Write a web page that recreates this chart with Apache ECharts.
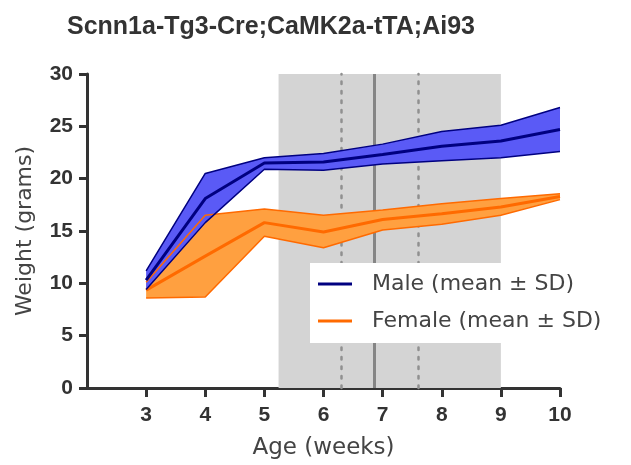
<!DOCTYPE html>
<html>
<head>
<meta charset="utf-8">
<script src="https://cdn.jsdelivr.net/npm/echarts@6/dist/echarts.min.js"></script>
<style>html,body{margin:0;padding:0;background:#fff}#c{width:631px;height:465px}</style>
</head>
<body>
<div id="c"></div>
<script>
var titleText = 'Scnn1a-Tg3-Cre;CaMK2a-tTA;Ai93';
var weeks = [3, 4, 5, 6, 7, 8, 9, 10];
var xTicks = [3, 4, 5, 6, 7, 8, 9, 10];
var maleMean  = [10.3, 18.1, 21.5, 21.6, 22.3, 23.1, 23.6, 24.7];
var maleUpper = [11.2, 20.5, 22.0, 22.4, 23.3, 24.5, 25.1, 26.8];
var maleLower = [9.4, 15.8, 20.9, 20.8, 21.4, 21.7, 22.0, 22.6];
var femaleMean  = [9.35, 12.6, 15.8, 14.9, 16.1, 16.65, 17.3, 18.3];
var femaleUpper = [10.1, 16.5, 17.1, 16.5, 17.0, 17.6, 18.1, 18.55];
var femaleLower = [8.6, 8.7, 14.5, 13.4, 15.1, 15.65, 16.5, 18.0];
var windowRange = [5.24, 9.0];
var dottedLines = [6.30, 7.61];
var solidLine = [6.86];
var maleName = 'Male (mean \u00b1 SD)';
var femaleName = 'Female (mean \u00b1 SD)';

function pairs(ys) { return weeks.map(function (w, i) { return [w, ys[i]]; }); }

var NAVY = '#000080', BLUEFILL = '#5a5af6', ORANGE = '#ff6a00', ORANGEFILL = '#ffa040';
var FONT = 'DejaVu Sans';

function bandFill(up, lo, color) {
  return {
    type: 'custom', silent: true, z: 2, clip: true,
    data: [[weeks[0], lo[0]]],
    renderItem: function (params, api) {
      var pts = [];
      for (var i = 0; i < weeks.length; i++) pts.push(api.coord([weeks[i], up[i]]));
      for (var j = weeks.length - 1; j >= 0; j--) pts.push(api.coord([weeks[j], lo[j]]));
      return { type: 'polygon', shape: { points: pts }, style: { fill: color } };
    }
  };
}
function edge(vals, color, w, name) {
  return { type: 'line', name: name, data: pairs(vals), symbol: 'none', silent: true,
    lineStyle: { color: color, width: w }, itemStyle: { color: color }, z: 3 };
}

var chart = echarts.init(document.getElementById('c'), null, { renderer: 'canvas' });
chart.setOption({
  animation: false,
  backgroundColor: '#fff',
  title: {
    text: titleText, left: 62, top: 10,
    textStyle: { fontFamily: 'Liberation Sans', fontWeight: 'bold', fontSize: 25, color: '#333' }
  },
  grid: { left: 87, right: 71, top: 74, bottom: 74, containLabel: false },
  legend: {
    left: 310, top: 263, orient: 'vertical', z: 30, zlevel: 0,
    data: [maleName, femaleName],
    icon: 'rect', itemWidth: 34, itemHeight: 3, itemGap: 15,
    backgroundColor: '#fff', padding: [10, 6, 11, 8],
    textStyle: { fontFamily: FONT, fontSize: 22, color: '#444', padding: [0, 0, 0, 15] },
    selectedMode: false
  },
  xAxis: {
    type: 'value', min: 2, max: 10, interval: 1,
    name: 'Age (weeks)', nameLocation: 'middle', nameGap: 49,
    nameTextStyle: { fontFamily: FONT, fontSize: 23, color: '#444' },
    axisLine: { lineStyle: { color: '#333', width: 3 } },
    axisTick: { show: true, length: 9, lineStyle: { color: '#333', width: 3 }, customValues: xTicks },
    axisLabel: { customValues: xTicks, margin: 17, fontFamily: 'Liberation Sans', fontWeight: 'bold', fontSize: 21, color: '#333' },
    splitLine: { show: false }
  },
  yAxis: {
    type: 'value', min: 0, max: 30, interval: 5,
    name: 'Weight (grams)', nameLocation: 'middle', nameGap: 51,
    nameTextStyle: { fontFamily: FONT, fontSize: 22, color: '#444' },
    axisLine: { show: true, lineStyle: { color: '#333', width: 3 } },
    axisTick: { show: true, length: 8, lineStyle: { color: '#333', width: 3 } },
    axisLabel: { margin: 14, fontFamily: 'Liberation Sans', fontWeight: 'bold', fontSize: 21, color: '#333' },
    splitLine: { show: false }
  },
  series: [
    {
      type: 'line', data: [], silent: true, z: 1,
      markArea: { silent: true, z: 1, itemStyle: { color: '#d4d4d4' },
        data: [[{ xAxis: windowRange[0] }, { xAxis: windowRange[1] }]] },
      markLine: { silent: true, z: 1, symbol: 'none', label: { show: false },
        data: dottedLines.map(function (v) { return { xAxis: v, lineStyle: { color: '#909090', width: 2.5, type: [2.5, 7], cap: 'round' } }; })
          .concat(solidLine.map(function (v) { return { xAxis: v, lineStyle: { color: '#858585', width: 3, type: 'solid' } }; })) }
    },
    bandFill(femaleUpper, femaleLower, ORANGEFILL),
    bandFill(maleUpper, maleLower, BLUEFILL),
    edge(femaleUpper, ORANGE, 1.5),
    edge(femaleLower, ORANGE, 1.5),
    edge(femaleMean, ORANGE, 3, femaleName),
    edge(maleUpper, NAVY, 1.5),
    edge(maleLower, NAVY, 1.5),
    edge(maleMean, NAVY, 3, maleName)
  ]
});
</script>
</body>
</html>
